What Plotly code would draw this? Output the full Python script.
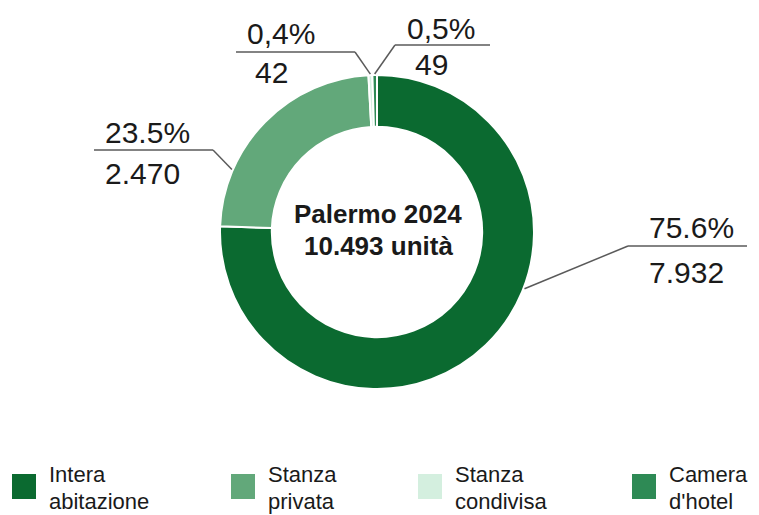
import math
import plotly.graph_objects as go

# Listings in Palermo, 2024, by accommodation type
categories = ["Intera abitazione", "Stanza privata", "Stanza condivisa", "Camera d'hotel"]
legend_lines = [["Intera", "abitazione"], ["Stanza", "privata"], ["Stanza", "condivisa"], ["Camera", "d'hotel"]]
values = [7932, 2470, 42, 49]
pct_labels = ["75.6%", "23.5%", "0,4%", "0,5%"]
count_labels = ["7.932", "2.470", "42", "49"]
center_title = "Palermo 2024"
center_sub = "10.493 unità"

colors = ["#0b6a30", "#62a87a", "#d4efdf", "#2e8a55"]

W, H = 759, 515
CX, CY, R = 377, 232, 157
HOLE = 0.67
FONT = "Liberation Sans, Arial, sans-serif"
INK = "#1a1a1a"
LINE = "#5a5a5a"


def px(x):
    return x / W


def py(y):
    return 1 - y / H


fig = go.Figure(go.Pie(
    labels=categories,
    values=values,
    hole=HOLE,
    sort=False,
    direction="clockwise",
    rotation=0,
    marker=dict(colors=colors, line=dict(color="white", width=2)),
    textinfo="none",
    hoverinfo="label+value+percent",
    showlegend=False,
    domain=dict(x=[px(CX - R), px(CX + R)], y=[py(CY + R), py(CY - R)]),
))

# Leader-line layout per label: where along its slice the line touches the ring,
# the elbow point, the far end of the horizontal rule and the text positions.
anchor_frac = [0.408, 0.25, 0.5, 0.5]
elbows = [(628, 246), (213, 150), (355, 52), (395, 45)]
rule_other_end = [747, 94, 236, 490]
pct_pos = [(647, 227), (103, 132), (245, 33), (405, 28)]
count_pos = [(647, 272), (103, 173), (253, 73), (413, 65)]

total = sum(values)
shapes = []
annotations = []
start = 0.0
for i, v in enumerate(values):
    frac0 = start / total
    frac1 = (start + v) / total
    start += v
    ang = 2 * math.pi * (frac0 + anchor_frac[i] * (frac1 - frac0))
    ax = CX + (R + 1) * math.sin(ang)
    ay = CY - (R + 1) * math.cos(ang)
    ex, ey = elbows[i]
    shapes.append(dict(type="line", xref="paper", yref="paper",
                       x0=px(ax), y0=py(ay), x1=px(ex), y1=py(ey),
                       line=dict(color=LINE, width=1.5)))
    shapes.append(dict(type="line", xref="paper", yref="paper",
                       x0=px(ex), y0=py(ey), x1=px(rule_other_end[i]), y1=py(ey),
                       line=dict(color=LINE, width=1.5)))
    for text, (tx, ty) in ((pct_labels[i], pct_pos[i]), (count_labels[i], count_pos[i])):
        annotations.append(dict(text=text, xref="paper", yref="paper",
                                x=px(tx), y=py(ty), xanchor="left", yanchor="middle",
                                showarrow=False, font=dict(family=FONT, size=30, color=INK)))


def two_lines(top, bottom, x, y_split, size, bold=False, xanchor="left"):
    """Two stacked text lines whose boxes meet at y_split (pixels from top)."""
    fmt = "<b>%s</b>" if bold else "%s"
    out = []
    for text, anchor in ((top, "bottom"), (bottom, "top")):
        out.append(dict(text=fmt % text, xref="paper", yref="paper",
                        x=px(x), y=py(y_split), xanchor=xanchor, yanchor=anchor,
                        borderpad=0, showarrow=False,
                        font=dict(family=FONT, size=size, color=INK)))
    return out


# Centre caption
annotations += two_lines(center_title, center_sub, 378, 229.5, 26, bold=True, xanchor="center")

# Legend row at the bottom
legend_x = [12, 231, 418, 632]
for i, lx in enumerate(legend_x):
    shapes.append(dict(type="rect", xref="paper", yref="paper",
                       x0=px(lx), x1=px(lx + 24), y0=py(499), y1=py(474),
                       fillcolor=colors[i], line=dict(width=0)))
    annotations += two_lines(legend_lines[i][0], legend_lines[i][1], lx + 36, 488, 22)

fig.update_layout(
    width=W, height=H,
    margin=dict(l=0, r=0, t=0, b=0),
    paper_bgcolor="white",
    plot_bgcolor="white",
    shapes=shapes,
    annotations=annotations,
)

fig.write_html("out.html")
